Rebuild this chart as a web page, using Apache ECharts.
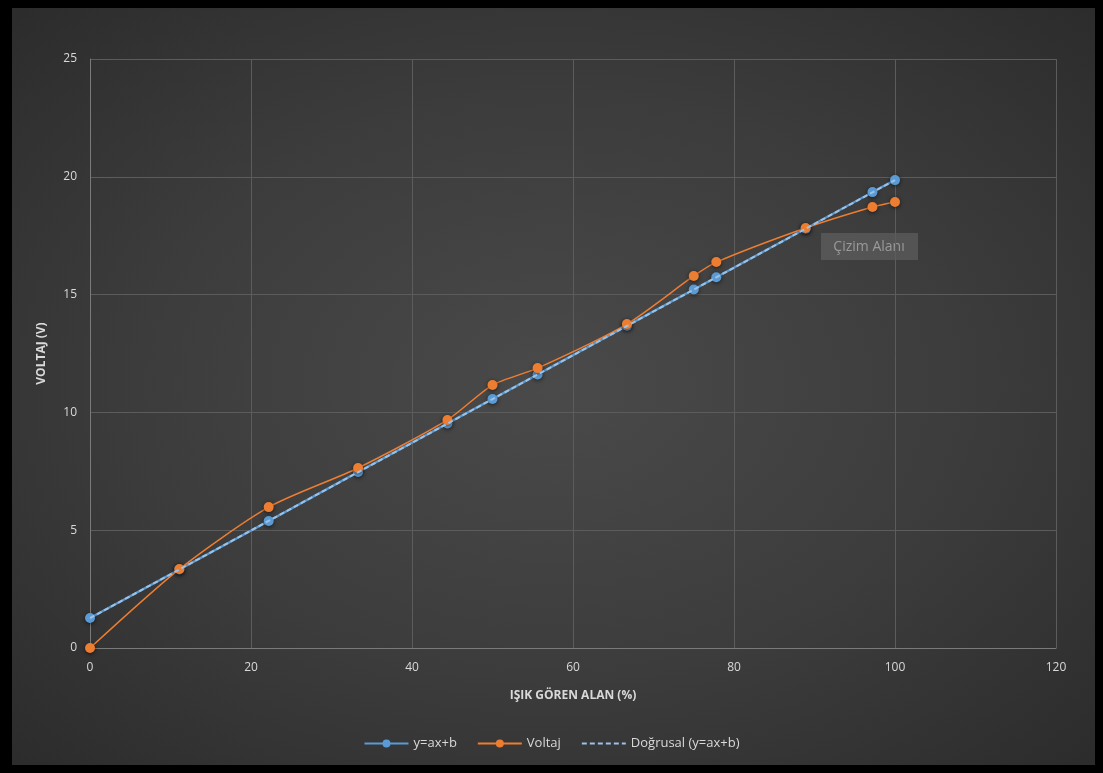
<!DOCTYPE html>
<html>
<head>
<meta charset="utf-8">
<script src="https://cdn.jsdelivr.net/npm/echarts@6/dist/echarts.min.js"></script>
<style>
html,body{margin:0;padding:0;width:1103px;height:773px;background:#000;overflow:hidden;}
#bg{position:absolute;left:12px;top:8px;width:1083px;height:757px;
background:radial-gradient(ellipse 70% 70% at 50% 50%, #4a4a4a 0%, #3c3c3c 55%, #2c2c2c 100%);}
#chart{position:absolute;left:0;top:0;width:1103px;height:773px;}
</style>
</head>
<body>
<div id="bg"></div>
<div id="chart"></div>
<script>
// Data
const xValues = [0, 11.1, 22.2, 33.3, 44.4, 50, 55.6, 66.7, 75, 77.8, 88.9, 97.2, 100];
const fitValues = [1.27, 3.33, 5.39, 7.47, 9.53, 10.57, 11.61, 13.68, 15.22, 15.74, 17.80, 19.35, 19.86];
const voltValues = [0, 3.35, 5.98, 7.64, 9.68, 11.16, 11.88, 13.75, 15.79, 16.38, 17.83, 18.72, 18.93];
const trendX = [0, 100];
const trendY = [1.27, 19.86];
const seriesNames = ['y=ax+b', 'Voltaj', 'Doğrusal (y=ax+b)'];
const xAxisTitle = 'IŞIK GÖREN ALAN (%)';
const yAxisTitle = 'VOLTAJ (V)';
const noteText = 'Çizim Alanı';

const pairs = (xs, ys) => xs.map((x, i) => [x, ys[i]]);
const textColor = '#d9d9d9';
const font = '"Open Sans", "Noto Sans", sans-serif';

const chart = echarts.init(document.getElementById('chart'), null, {renderer: 'canvas'});
chart.setOption({
  backgroundColor: 'transparent',
  animation: false,
  textStyle: {fontFamily: font},
  grid: {left: 90, right: 47, top: 59, bottom: 125},
  xAxis: {
    type: 'value', min: 0, max: 120, interval: 20,
    name: xAxisTitle, nameLocation: 'middle', nameGap: 42,
    nameTextStyle: {color: textColor, fontSize: 12, fontWeight: 'bold', fontFamily: font},
    axisLine: {show: true, lineStyle: {color: '#7a7a7a', width: 1}},
    axisTick: {show: false},
    axisLabel: {color: textColor, fontSize: 12, margin: 14, fontFamily: font},
    splitLine: {show: true, lineStyle: {color: '#5c5c5c', width: 1}}
  },
  yAxis: {
    type: 'value', min: 0, max: 25, interval: 5,
    name: yAxisTitle, nameLocation: 'middle', nameGap: 42, nameRotate: 90,
    nameTextStyle: {color: textColor, fontSize: 12, fontWeight: 'bold', fontFamily: font},
    axisLine: {show: true, lineStyle: {color: '#7a7a7a', width: 1}},
    axisTick: {show: false},
    axisLabel: {color: textColor, fontSize: 12, margin: 13, fontFamily: font},
    splitLine: {show: true, lineStyle: {color: '#5c5c5c', width: 1}}
  },
  legend: {
    bottom: 18, left: 'center',
    itemWidth: 44, itemHeight: 10, itemGap: 20,
    textStyle: {color: textColor, fontSize: 13, fontFamily: font},
    data: [
      {name: seriesNames[0]},
      {name: seriesNames[1]},
      {name: seriesNames[2], itemStyle: {opacity: 0}}
    ]
  },
  series: [
    {
      name: seriesNames[0], type: 'line', data: pairs(xValues, fitValues),
      symbol: 'circle', symbolSize: 10,
      lineStyle: {color: '#5b9bd5', width: 2.25},
      itemStyle: {color: '#5b9bd5', shadowBlur: 4, shadowColor: 'rgba(0,0,0,0.6)', shadowOffsetY: 1},
      z: 2
    },
    {
      name: seriesNames[1], type: 'line', data: pairs(xValues, voltValues),
      symbol: 'circle', symbolSize: 10, smooth: 0.25,
      lineStyle: {color: '#ed7d31', width: 1.5},
      itemStyle: {color: '#ed7d31', shadowBlur: 4, shadowColor: 'rgba(0,0,0,0.6)', shadowOffsetY: 1},
      z: 3
    },
    {
      name: seriesNames[2], type: 'line', data: pairs(trendX, trendY),
      symbol: 'none',
      lineStyle: {color: '#9cc2e5', width: 2, type: [5, 3]},
      itemStyle: {color: '#6fa6da'},
      z: 4
    }
  ],
  graphic: [{
    type: 'group', left: 821, top: 233,
    children: [
      {type: 'rect', shape: {x: 0, y: 0, width: 97, height: 27}, style: {fill: 'rgba(130,130,130,0.35)'}},
      {type: 'text', x: 48, y: 14, style: {text: noteText, fill: '#9a9a9a', fontSize: 14, fontFamily: font, align: 'center', verticalAlign: 'middle'}}
    ]
  }]
});
</script>
</body>
</html>
